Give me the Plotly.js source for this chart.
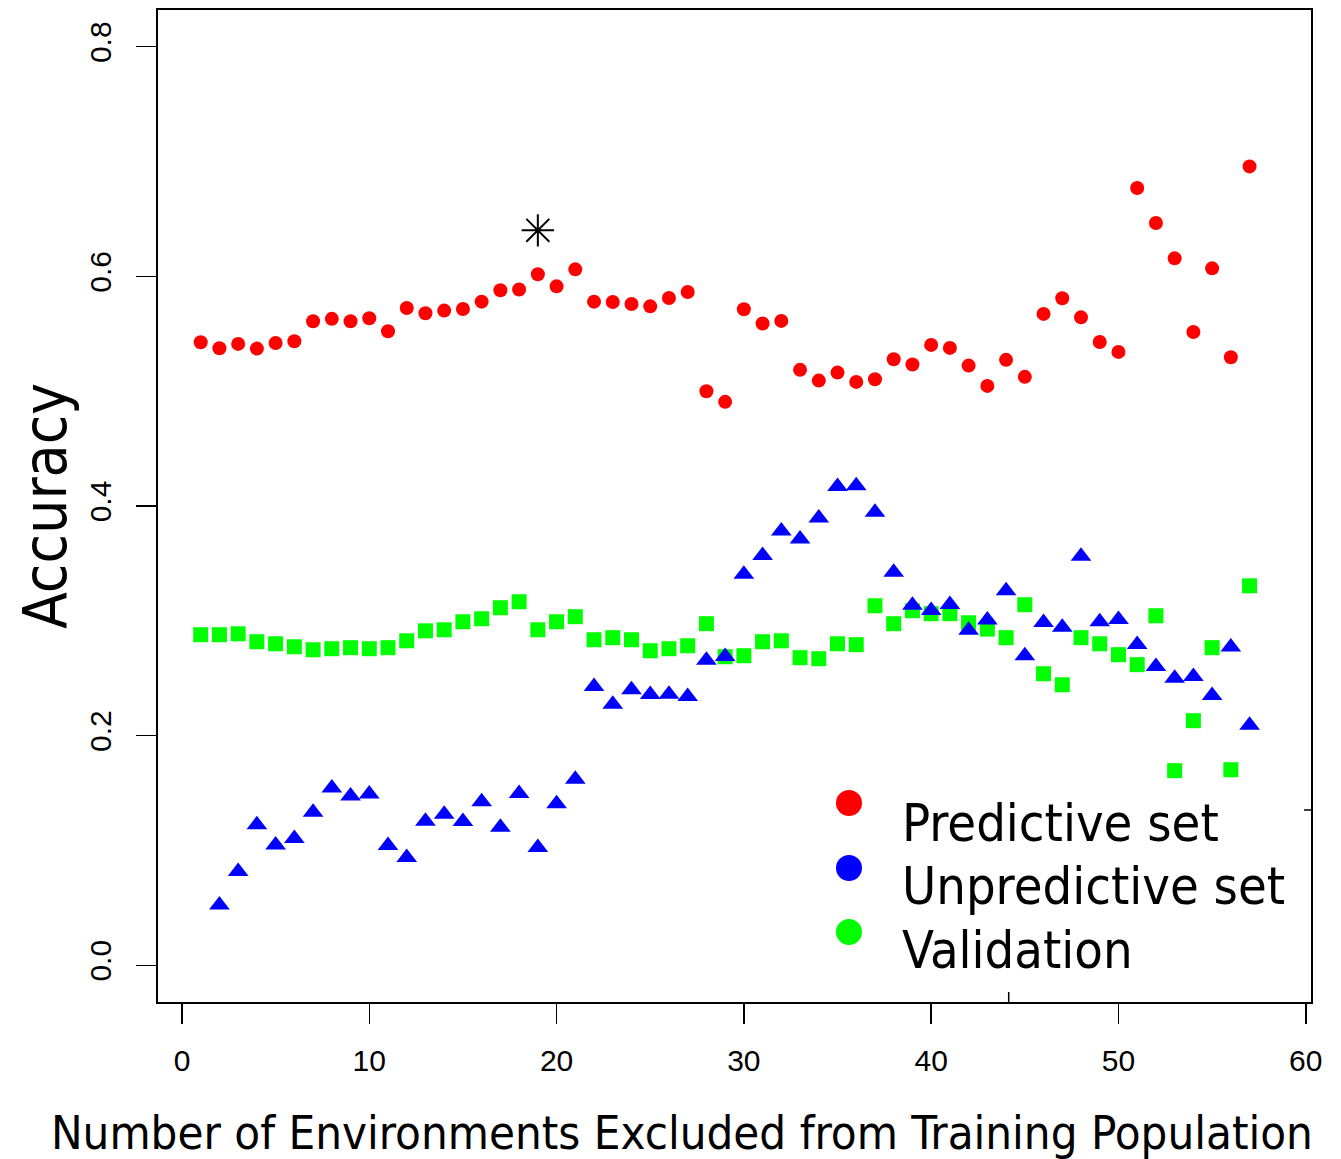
<!DOCTYPE html>
<html>
<head>
<meta charset="utf-8">
<script src="https://cdn.plot.ly/plotly-3.0.1.min.js"></script>
<style>html,body{margin:0;padding:0;background:#fff;}#chart{width:1341px;height:1159px;}</style>
</head>
<body>
<div id="chart"></div>
<script>
// ---- data ----
var envPredictive = [1,2,3,4,5,6,7,8,9,10,11,12,13,14,15,16,17,18,19,20,21,22,23,24,25,26,27,28,29,30,31,32,33,34,35,36,37,38,39,40,41,42,43,44,45,46,47,48,49,50,51,52,53,54,55,56,57];
var accPredictive = [0.5426,0.5374,0.5412,0.5371,0.5420,0.5435,0.5609,0.5630,0.5609,0.5635,
                     0.5522,0.5725,0.5679,0.5702,0.5716,0.5780,0.5879,0.5885,0.6018,0.5913,
                     0.6061,0.5780,0.5777,0.5760,0.5739,0.5812,0.5864,0.4999,0.4907,0.5713,
                     0.5589,0.5612,0.5186,0.5092,0.5162,0.5081,0.5104,0.5278,0.5232,0.5403,
                     0.5377,0.5223,0.5046,0.5273,0.5125,0.5673,0.5809,0.5643,0.5428,0.5342,
                     0.6770,0.6465,0.6157,0.5516,0.6070,0.5296,0.6958];

var envUnpredictive = [2,3,4,5,6,7,8,9,10,11,12,13,14,15,16,17,18,19,20,21,22,23,24,25,26,27,28,29,30,31,32,33,34,35,36,37,38,39,40,41,42,43,44,45,46,47,48,49,50,51,52,53,54,55,56,57];
var accUnpredictive = [0.0525,0.0817,0.1224,0.1047,0.1105,0.1332,0.1543,0.1474,0.1491,
                       0.1042,0.0939,0.1255,0.1316,0.1253,0.1424,0.1203,0.1497,0.1026,0.1406,
                       0.1621,0.2428,0.2274,0.2399,0.2358,0.2361,0.2341,0.2657,0.2689,0.3405,
                       0.3568,0.3783,0.3713,0.3896,0.4169,0.4177,0.3945,0.3423,0.3136,0.3089,
                       0.3142,0.2918,0.3008,0.3261,0.2695,0.2985,0.2944,0.3562,0.2991,0.3011,
                       0.2793,0.2602,0.2500,0.2515,0.2350,0.2773,0.2091];

var envValidation = [1,2,3,4,5,6,7,8,9,10,11,12,13,14,15,16,17,18,19,20,21,22,23,24,25,26,27,28,29,30,31,32,33,34,35,36,37,38,39,40,41,42,43,44,45,46,47,48,49,50,51,52,53,54,55,56,57];
var accValidation = [0.2879,0.2879,0.2887,0.2818,0.2800,0.2774,0.2748,0.2757,0.2766,0.2757,
                     0.2766,0.2826,0.2913,0.2922,0.2992,0.3018,0.3114,0.3166,0.2922,0.2992,
                     0.3036,0.2835,0.2853,0.2835,0.2739,0.2757,0.2783,0.2975,0.2687,0.2696,
                     0.2818,0.2826,0.2679,0.2670,0.2800,0.2792,0.3131,0.2975,0.3088,0.3062,
                     0.3062,0.2983,0.2928,0.2853,0.3140,0.2539,0.2443,0.2853,0.2800,0.2705,
                     0.2618,0.3044,0.1695,0.2130,0.2766,0.1703,0.3305];

var envBest = [19];
var accBest = [0.6401];

var seriesNames = ["Predictive set", "Unpredictive set", "Validation"];
var seriesColors = ["#ff0000", "#0000ff", "#00ff00"];

var xTickVals = [0, 10, 20, 30, 40, 50, 60];
var yTickVals = [0, 0.2, 0.4, 0.6, 0.8];
var yTickText = ["0.0", "0.2", "0.4", "0.6", "0.8"];

var xTitle = "Number of Environments Excluded from Training Population";
var yTitle = "Accuracy";

// ---- traces ----
var traces = [
  {x: envPredictive, y: accPredictive, type: "scatter", mode: "markers", name: seriesNames[0],
   marker: {symbol: "circle", size: 14, color: seriesColors[0], line: {width: 0}}},
  {x: envValidation, y: accValidation, type: "scatter", mode: "markers", name: seriesNames[2],
   marker: {symbol: "square", size: 15, color: seriesColors[2], line: {width: 0}}},
  {x: envUnpredictive, y: accUnpredictive, type: "scatter", mode: "markers", name: seriesNames[1],
   marker: {symbol: "triangle-up", size: 18, color: seriesColors[1], line: {width: 0}}},
  {x: envBest, y: accBest, type: "scatter", mode: "markers", name: "best",
   marker: {symbol: "asterisk-open", size: 27, color: "#000", line: {width: 2, color: "#000"}}}
];

var titleFont = "DejaVu Sans Condensed, DejaVu Sans, sans-serif";
var tickFont = {family: "Liberation Sans, Arial, sans-serif", size: 30, color: "#000"};

// custom legend (R style: filled circles for all entries)
var legendCircleY = [0.2006, 0.1351, 0.0706];
var legendTextY = [0.1809, 0.1169, 0.0524];
var shapes = [];
var annotations = [];
for (var i = 0; i < seriesNames.length; i++) {
  shapes.push({type: "circle", xref: "paper", yref: "paper", xsizemode: "pixel", ysizemode: "pixel",
    xanchor: 0.5993, yanchor: legendCircleY[i], x0: -13, x1: 13, y0: -13, y1: 13,
    fillcolor: seriesColors[i], line: {width: 0}});
  annotations.push({xref: "paper", yref: "paper", x: 0.6435, y: legendTextY[i], xanchor: "left", yanchor: "middle",
    text: seriesNames[i], showarrow: false, font: {family: titleFont, size: 52, color: "#000"}});
}
annotations.push({xref: "paper", yref: "paper", x: 0.4545, y: -0.1316, xanchor: "center", yanchor: "middle",
  text: xTitle, showarrow: false, font: {family: titleFont, size: 47, color: "#000"}});
annotations.push({xref: "paper", yref: "paper", x: -0.0980, y: 0.5, xanchor: "center", yanchor: "middle",
  text: yTitle, textangle: -90, showarrow: false, font: {family: titleFont, size: 60, color: "#000"}});

// stray tick marks present in the original figure
shapes.push({type: "line", xref: "x", yref: "paper", ysizemode: "pixel", yanchor: 0, x0: 44.14, x1: 44.14, y0: 0, y1: 10, line: {color: "#000", width: 1.5}});
shapes.push({type: "line", xref: "paper", yref: "y", xsizemode: "pixel", xanchor: 1, x0: 0, x1: -7, y0: 0.1352, y1: 0.1352, line: {color: "#000", width: 1.5}});

var layout = {
  width: 1341, height: 1159,
  margin: {l: 158, r: 30, t: 10, b: 157, pad: 0},
  paper_bgcolor: "#fff", plot_bgcolor: "#fff",
  showlegend: false,
  xaxis: {range: [-1.28, 60.28], tickmode: "array", tickvals: xTickVals, ticks: "outside", ticklen: 20, tickwidth: 1.5,
    tickcolor: "#000", showline: true, mirror: true, linecolor: "#000", linewidth: 2, showgrid: false, zeroline: false,
    tickfont: tickFont, ticklabelstandoff: 11},
  yaxis: {range: [-0.032, 0.832], tickmode: "array", tickvals: yTickVals, ticktext: yTickText, tickangle: -90,
    ticks: "outside", ticklen: 20, tickwidth: 1.5, tickcolor: "#000", showline: true, mirror: true, linecolor: "#000",
    linewidth: 2, showgrid: false, zeroline: false, tickfont: tickFont, ticklabelstandoff: 13},
  shapes: shapes,
  annotations: annotations
};

Plotly.newPlot("chart", traces, layout, {displayModeBar: false, staticPlot: true});
</script>
</body>
</html>
